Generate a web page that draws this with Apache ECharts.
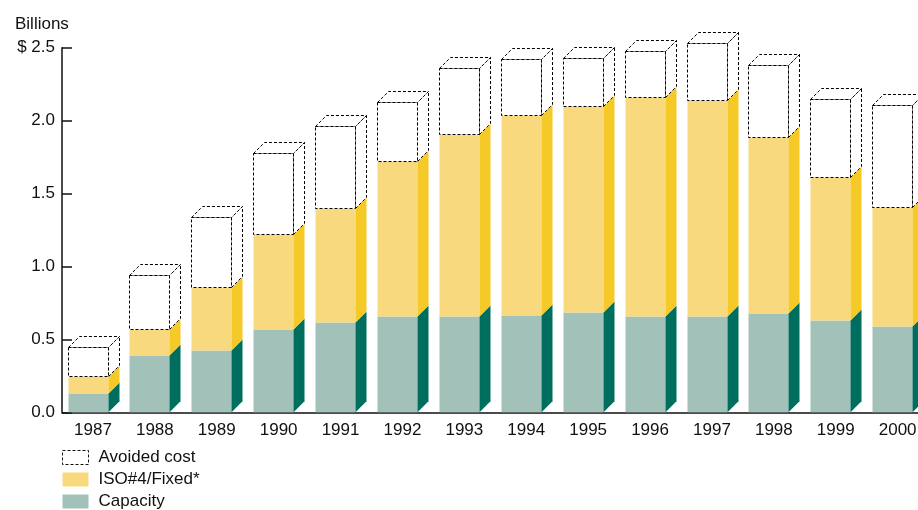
<!DOCTYPE html>
<html>
<head>
<meta charset="utf-8">
<script src="https://cdn.jsdelivr.net/npm/echarts@6/dist/echarts.min.js"></script>
<style>
  html, body { margin: 0; padding: 0; background: #fff; }
  #chart { width: 918px; height: 510px; }
</style>
</head>
<body>
<div id="chart"></div>
<script>
// values, billions of dollars
const years = ["1987", "1988", "1989", "1990", "1991", "1992", "1993", "1994", "1995", "1996", "1997", "1998", "1999", "2000"]
const capacity = [0.13, 0.39, 0.43, 0.57, 0.62, 0.66, 0.66, 0.67, 0.69, 0.66, 0.66, 0.68, 0.63, 0.59]
const isoFixed = [0.12, 0.18, 0.43, 0.65, 0.78, 1.06, 1.25, 1.37, 1.41, 1.50, 1.48, 1.21, 0.98, 0.82]
const avoidedCost = [0.20, 0.37, 0.48, 0.56, 0.56, 0.41, 0.45, 0.38, 0.33, 0.32, 0.39, 0.49, 0.54, 0.70]
const yTicks = [0, 0.5, 1.0, 1.5, 2.0, 2.5]

const FONT = "'Liberation Sans', Arial, sans-serif"
const DASH = [3, 2]

// stacked ranges [index, bottom, top]
const capRows = [], isoRows = [], avoidRows = []
years.forEach((y, i) => {
  const a = capacity[i]
  const b = a + isoFixed[i]
  const c = b + avoidedCost[i]
  capRows.push([i, 0, a])
  isoRows.push([i, a, b])
  avoidRows.push([i, b, c])
})

// pseudo 3d box: front face, right side face, and a top for the last segment
function boxRenderer(front, side, dashed) {
  return function (params, api) {
    const i = api.value(0)
    const lo = api.coord([i, api.value(1)])
    const hi = api.coord([i, api.value(2)])
    const bw = api.size([1, 0])[0]
    const x0 = Math.round(lo[0] - bw / 2 + bw * 0.089) + 0.5
    const w = Math.round(bw * 0.641)
    const d = Math.round(bw * 0.183)
    const x1 = x0 + w
    const yb = api.value(1) === 0 ? lo[1] : Math.round(lo[1]) + 0.5
    const yt = Math.round(hi[1]) + 0.5

    const sidePts = [[x1, yb], [x1 + d, yb - d], [x1 + d, yt - d], [x1, yt]]
    if (!dashed) {
      return {
        type: "group",
        children: [
          { type: "rect", shape: { x: x0, y: yt, width: w, height: yb - yt }, style: { fill: front } },
          { type: "polygon", shape: { points: sidePts }, style: { fill: side } }
        ]
      }
    }
    const line = { fill: "#fff", stroke: "#000", lineWidth: 1, lineDash: DASH }
    return {
      type: "group",
      children: [
        { type: "polygon", shape: { points: sidePts }, style: line },
        { type: "polygon", shape: { points: [[x0, yt], [x0 + d, yt - d], [x1 + d, yt - d], [x1, yt]] }, style: line },
        { type: "rect", shape: { x: x0, y: yt, width: w, height: yb - yt }, style: line }
      ]
    }
  }
}

const chart = echarts.init(document.getElementById("chart"))

chart.setOption({
  animation: false,
  title: {
    text: "Billions",
    left: 10,
    top: 11,
    textStyle: { fontFamily: FONT, fontSize: 17, fontWeight: "normal", color: "#111" }
  },
  legend: {
    orient: "vertical",
    left: 62,
    top: 449,
    height: 80,
    padding: 0,
    itemWidth: 26,
    itemHeight: 14,
    itemGap: 5,
    selectedMode: false,
    textStyle: { fontFamily: FONT, fontSize: 17, color: "#111", padding: [0, 0, 0, 5] },
    data: [
      { name: "Avoided cost", icon: "rect", itemStyle: { color: "#fff", borderColor: "#111", borderWidth: 1, borderType: [3, 2] } },
      { name: "ISO#4/Fixed*", icon: "rect", itemStyle: { color: "#f8d97e", borderWidth: 0 } },
      { name: "Capacity", icon: "rect", itemStyle: { color: "#a1c1b9", borderWidth: 0 } }
    ]
  },
  grid: {
    left: 62,
    top: 47.7,
    width: 866.6,
    bottom: 97.7,
    containLabel: false,
    outerBoundsMode: "none"
  },
  xAxis: {
    type: "category",
    data: years,
    axisLine: { lineStyle: { color: "#111", width: 1.5 } },
    axisTick: { show: false },
    axisLabel: { fontFamily: FONT, fontSize: 17, color: "#111", margin: 10 }
  },
  yAxis: {
    type: "value",
    min: 0,
    max: 2.5,
    interval: 0.5,
    axisLine: { show: true, lineStyle: { color: "#111", width: 1.5 } },
    axisTick: { show: true, inside: true, length: 10, lineStyle: { color: "#111", width: 1.5 } },
    splitLine: { show: false },
    axisLabel: {
      fontFamily: FONT,
      fontSize: 17,
      color: "#111",
      margin: 7,
      formatter: v => (v === yTicks[yTicks.length - 1] ? "$ " + v.toFixed(1) : v.toFixed(1))
    }
  },
  series: [
    {
      name: "Capacity",
      type: "custom",
      itemStyle: { color: "#a1c1b9" },
      encode: { x: 0, y: [1, 2] },
      renderItem: boxRenderer("#a1c1b9", "#006e5f", false),
      data: capRows
    },
    {
      name: "ISO#4/Fixed*",
      type: "custom",
      itemStyle: { color: "#f8d97e" },
      encode: { x: 0, y: [1, 2] },
      renderItem: boxRenderer("#f8d97e", "#f5c927", false),
      data: isoRows
    },
    {
      name: "Avoided cost",
      type: "custom",
      itemStyle: { color: "#fff" },
      encode: { x: 0, y: [1, 2] },
      renderItem: boxRenderer("#fff", "#fff", true),
      data: avoidRows
    }
  ]
})
</script>
</body>
</html>
